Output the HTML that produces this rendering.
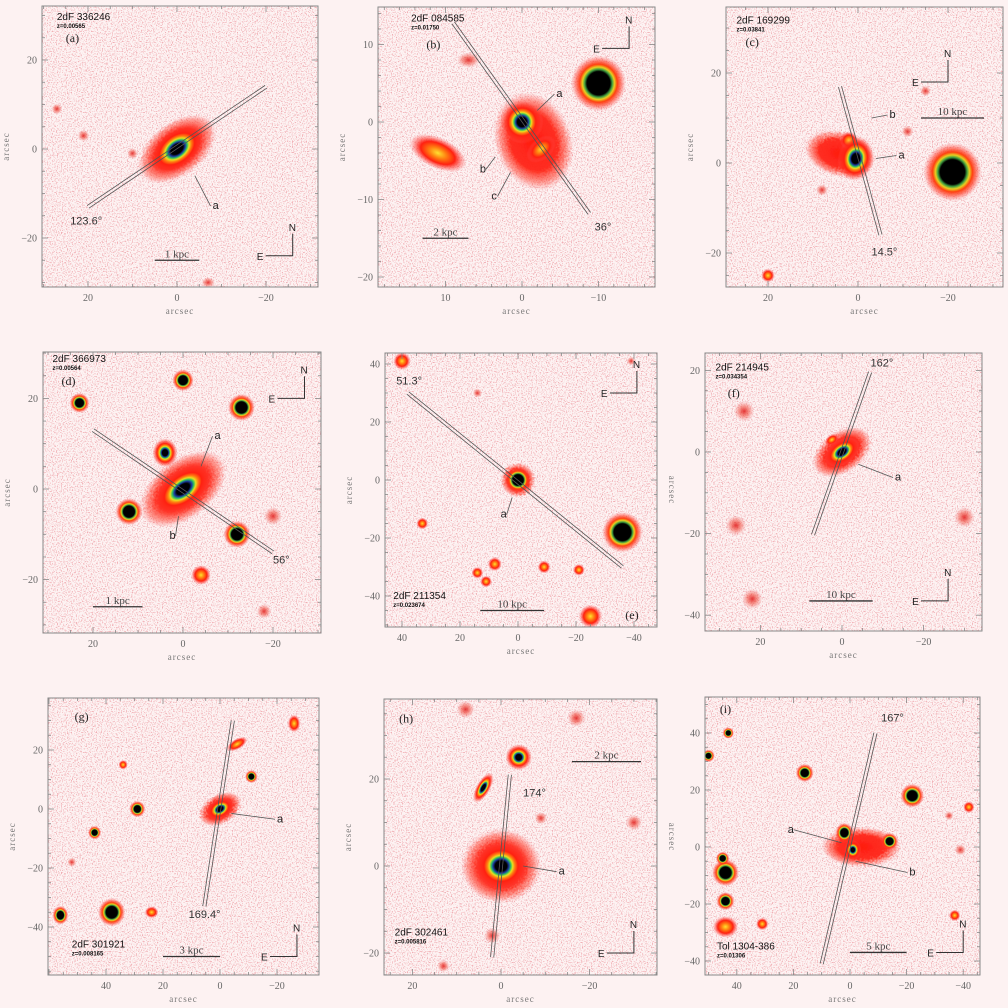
<!DOCTYPE html>
<html><head><meta charset="utf-8"><style>
html,body{margin:0;padding:0;background:#fdf2f2;}
svg{display:block;}
text{font-family:"Liberation Serif",serif;}
.lab{font-family:"Liberation Sans",sans-serif;}
</style></head><body>
<svg id="fig" width="1008" height="1008" viewBox="0 0 1008 1008" xmlns="http://www.w3.org/2000/svg">
<defs>
<filter id="noise" x="0" y="0" width="100%" height="100%">
<feTurbulence type="fractalNoise" baseFrequency="0.8" numOctaves="2" seed="3"/>
<feColorMatrix type="matrix" values="0 0 0 0 0.78  0 0 0 0 0.15  0 0 0 0 0.18  6 0 0 0 -3.15"/>
</filter>
<filter id="rag" x="-30%" y="-30%" width="160%" height="160%">
<feTurbulence type="fractalNoise" baseFrequency="0.5" numOctaves="2" seed="7" result="t"/>
<feDisplacementMap in="SourceGraphic" in2="t" scale="6"/>
</filter>
<radialGradient id="g-gal"><stop offset="0" stop-color="#000010"/><stop offset="0.22" stop-color="#000"/><stop offset="0.3" stop-color="#1a3aa0"/><stop offset="0.37" stop-color="#30c060"/><stop offset="0.44" stop-color="#e8e020"/><stop offset="0.52" stop-color="#ff8010"/><stop offset="0.64" stop-color="#ff2010"/><stop offset="0.82" stop-color="#ff3020" stop-opacity="0.5"/><stop offset="1" stop-color="#ff6060" stop-opacity="0"/></radialGradient>
<radialGradient id="g-star"><stop offset="0" stop-color="#000"/><stop offset="0.42" stop-color="#000"/><stop offset="0.5" stop-color="#40a040"/><stop offset="0.58" stop-color="#e8d020"/><stop offset="0.68" stop-color="#ff4010"/><stop offset="0.85" stop-color="#ff3020" stop-opacity="0.45"/><stop offset="1" stop-color="#ff6060" stop-opacity="0"/></radialGradient>
<radialGradient id="g-faint"><stop offset="0" stop-color="#e02020" stop-opacity="0.9"/><stop offset="0.5" stop-color="#f04030" stop-opacity="0.5"/><stop offset="1" stop-color="#f06060" stop-opacity="0"/></radialGradient>
<radialGradient id="g-orange"><stop offset="0" stop-color="#ffe030"/><stop offset="0.3" stop-color="#ff8010"/><stop offset="0.6" stop-color="#ff2010"/><stop offset="1" stop-color="#ff5050" stop-opacity="0"/></radialGradient>
<radialGradient id="g-halo"><stop offset="0" stop-color="#ff1a10"/><stop offset="0.6" stop-color="#ff2515" stop-opacity="0.95"/><stop offset="0.85" stop-color="#ff4030" stop-opacity="0.45"/><stop offset="1" stop-color="#ff6060" stop-opacity="0"/></radialGradient>
</defs>
</svg>
<script>
// sources: [x arcsec, y arcsec, rx, ry, rotation deg, type]
const srcA = [[0,0,10,6,-38,'halo'],[0,0,7,4.5,-38,'gal'],[-7,-30,1.5,1.2,0,'faint'],[21,3,1.3,1.3,0,'faint'],[27,9,1.2,1.2,0,'faint'],[10,-1,1.2,1.2,0,'faint']];
const srcB = [[-1.5,-2.5,5,6.5,-20,'halo'],[0,0,2.8,2.8,0,'gal'],[-2.5,-3.5,2.2,1.4,-40,'orange'],[-10,5,3.6,3.6,0,'star'],[11,-4,4,2,25,'orange'],[7,8,1.5,1,0,'faint']];
const srcC = [[4,2,8,5,15,'halo'],[2,5,2,2,0,'orange'],[0.5,1,4,5,10,'gal'],[-21,-2,6.5,6.5,0,'star'],[20,-25,1.5,1.5,0,'orange'],[-11,7,1.3,1.3,0,'faint'],[8,-6,1.3,1.3,0,'faint'],[-15,16,1.2,1.2,0,'faint']];
const srcD = [[0,0,11,6.5,-38,'halo'],[0,0,7.5,4.2,-38,'gal'],[4,8,2.8,3.2,0,'gal'],[12,-5,3,3,0,'star'],[-13,18,3,3,0,'star'],[-12,-10,3,3,0,'star'],[23,19,2.2,2.2,0,'star'],[0,24,2.4,2.4,0,'star'],[-4,-19,2.2,2.2,0,'orange'],[-20,-6,2,2,0,'faint'],[-18,-27,1.6,1.6,0,'faint']];
const srcE = [[0,0,6,6,0,'halo'],[0,0,4.5,4.5,0,'star'],[-36,-18,7,7,0,'star'],[-25,-47,4,4,0,'orange'],[8,-29,2.4,2.4,0,'orange'],[14,-32,2,2,0,'orange'],[11,-35,2,2,0,'orange'],[-9,-30,2.2,2.2,0,'orange'],[-21,-31,2,2,0,'orange'],[33,-15,2,2,0,'orange'],[40,41,3,3,0,'orange'],[14,30,1.6,1.6,0,'faint'],[-39,41,1.5,1.5,0,'faint']];
const srcF = [[0,0,8,5,-35,'halo'],[0,0,4.8,3,-35,'gal'],[2.5,3,1.8,1.2,-35,'orange'],[-30,-16,2.5,2.5,0,'faint'],[22,-36,2.5,2.5,0,'faint'],[26,-18,2.5,2.5,0,'faint'],[24,10,2.5,2.5,0,'faint']];
const srcG = [[0,0,8,5,-30,'halo'],[0,0,5,3.3,-30,'gal'],[-6,22,4,1.8,-30,'orange'],[-26,29,2.2,3,0,'orange'],[-11,11,2.2,2.2,0,'star'],[29,0,2.8,2.8,0,'star'],[44,-8,2.3,2.3,0,'star'],[38,-35,4.8,4.8,0,'star'],[56,-36,2.8,3.2,0,'star'],[24,-35,2.4,2,0,'orange'],[34,15,1.6,1.6,0,'orange'],[52,-18,1.6,1.6,0,'faint']];
const srcH = [[0,0,9,8.5,0,'halo'],[0,0,6,5.5,0,'gal'],[-4,25,3,3,0,'gal'],[4,18,3.8,1.6,-60,'gal'],[2,-16,1.8,1.8,0,'faint'],[13,-23,1.4,1.4,0,'faint'],[8,36,2,2,0,'faint'],[-17,34,2,2,0,'faint'],[-30,10,1.8,1.8,0,'faint'],[-9,11,1.4,1.4,0,'faint']];
const srcI = [[-4,0,14,7,0,'halo'],[2,5,3.2,3.5,0,'star'],[-1,-1,3,3.5,0,'gal'],[-14,2,3,3,0,'star'],[-22,18,4.2,4.2,0,'star'],[16,26,3.2,3.2,0,'star'],[44,-9,4.8,4.8,0,'star'],[45,-4,2.4,2.4,0,'star'],[44,-19,3.2,3.2,0,'star'],[44,-28,4.5,3.8,0,'orange'],[31,-27,2.2,2.2,0,'orange'],[43,40,2,2,0,'star'],[50,32,2.2,2.2,0,'star'],[-42,14,2,2,0,'orange'],[-37,-24,2,2,0,'orange'],[-39,-1,2,2,0,'faint'],[-35,11,1.6,1.6,0,'faint']];

const panels = [
 {id:'a',frame:[42,6,318,287],cx:177,sx:4.45,cy:149,sy:4.45,xt:[20,0,-20],yt:[20,0,-20],minor:5,src:srcA,ytitle:true,
  name:'2dF 336246',z:'z=0.00565',nameAt:[27,29],tag:'(a)',tagAt:[25,24],
  slit:[[20,-13],[-20,14]],angle:'123.6°',angleAt:[24,-17],
  marks:[['a',-8,-13.5,-4,-6]],scale:[5,-5,-25,'1 kpc'],ne:[-26,-24]},
 {id:'b',frame:[378,7,655,287],cx:522,sx:7.65,cy:122,sy:7.75,xt:[10,0,-10],yt:[10,0,-10,-20],minor:2,src:srcB,ytitle:true,
  name:'2dF 084585',z:'z=0.01750',nameAt:[14.5,13],tag:'(b)',tagAt:[12.5,9.5],
  slit:[[9,12.8],[-8.8,-11.8]],angle:'36°',angleAt:[-9.5,-14],
  marks:[['a',-4.5,3.2,-2,1.5],['b',5.5,-6.5,3.5,-4.5],['c',4,-10,1.5,-6.5]],scale:[13,7,-15,'2 kpc'],ne:[-14,9.5]},
 {id:'c',frame:[726,7,1003,287],cx:858,sx:4.5,cy:163,sy:4.5,xt:[20,0,-20],yt:[20,0,-20],minor:5,src:srcC,ytitle:true,
  name:'2dF 169299',z:'z=0.03841',nameAt:[27,31],tag:'(c)',tagAt:[25,26],
  slit:[[4,17],[-5,-16]],angle:'14.5°',angleAt:[-3,-20.5],
  marks:[['a',-9,1,-4,1],['b',-7,10,-3,10]],scale:[-14,-28,10,'10 kpc'],ne:[-20,18]},
 {id:'d',frame:[43,352,321,633],cx:183,sx:4.5,cy:489,sy:4.53,xt:[20,0,-20],yt:[20,0,-20],minor:5,src:srcD,ytitle:true,
  name:'2dF 366973',z:'z=0.00564',nameAt:[29,28],tag:'(d)',tagAt:[27,23],
  slit:[[20,13],[-20,-14]],angle:'56°',angleAt:[-20,-16.5],
  marks:[['a',-7,11,-4,5],['b',3,-11,1,-6]],scale:[20,9,-26,'1 kpc'],ne:[-27,20]},
 {id:'e',frame:[385,353,657,627],cx:518,sx:2.9,cy:480,sy:2.9,xt:[40,20,0,-20,-40],yt:[40,20,0,-20,-40],minor:5,src:srcE,ytitle:true,
  name:'2dF 211354',z:'z=0.023674',nameAt:[43,-41],tag:'(e)',tagAt:[-37,-48],
  slit:[[38,30],[-36,-30]],angle:'51.3°',angleAt:[42,33],
  marks:[['a',6,-13,2,-6]],scale:[13,-9,-45,'10 kpc'],ne:[-41,30]},
 {id:'f',frame:[705,353,982,631],cx:842,sx:4.08,cy:452,sy:4.08,xt:[20,0,-20],yt:[20,0,-20,-40],minor:5,src:srcF,ytitle:false,
  name:'2dF 214945',z:'z=0.034354',nameAt:[31,20],tag:'(f)',tagAt:[28,13.5],
  slit:[[7.1,-20.3],[-6.9,19.6]],angle:'162°',angleAt:[-7,21],
  marks:[['a',-13,-7,-4,-3]],scale:[8,-7.5,-36.5,'10 kpc'],ne:[-26,-36.5]},
 {id:'g',frame:[48,698,319,975],cx:220,sx:2.85,cy:809,sy:2.95,xt:[40,20,0,-20],yt:[20,0,-20,-40],minor:5,src:srcG,ytitle:true,
  name:'2dF 301921',z:'z=0.008165',nameAt:[52,-47],tag:'(g)',tagAt:[51,30],
  slit:[[-4.5,30],[5.5,-33]],angle:'169.4°',angleAt:[11,-37],
  marks:[['a',-20,-4.5,-4,-1.5]],scale:[20,0,-50,'3 kpc'],ne:[-27,-50]},
 {id:'h',frame:[384,699,657,975],cx:501,sx:4.43,cy:866,sy:4.35,xt:[20,0,-20],yt:[20,0,-20],minor:5,src:srcH,ytitle:true,
  name:'2dF 302461',z:'z=0.005816',nameAt:[24,-16],tag:'(h)',tagAt:[23,33],
  slit:[[-2,21],[2,-21]],angle:'174°',angleAt:[-5,16],
  marks:[['a',-13,-2,-5,0]],scale:[-16,-31.6,24,'2 kpc'],ne:[-30,-20]},
 {id:'i',frame:[705,697,980,975],cx:850,sx:2.83,cy:847,sy:2.85,xt:[40,20,0,-20,-40],yt:[40,20,0,-20,-40],minor:5,src:srcI,ytitle:false,
  name:'Tol 1304-386',z:'z=0.01306',nameAt:[47,-36],tag:'(i)',tagAt:[46,47],
  slit:[[-9,40],[10,-41]],angle:'167°',angleAt:[-11,44],
  marks:[['a',22,5,3,1.5],['b',-21,-10,-2,-5]],scale:[0,-20,-37,'5 kpc'],ne:[-40,-37]}
];

const NS='http://www.w3.org/2000/svg';
const svg=document.getElementById('fig');
function mk(tag,attrs,parent){const e=document.createElementNS(NS,tag);for(const k in attrs)e.setAttribute(k,attrs[k]);(parent||svg).appendChild(e);return e;}

panels.forEach(p=>{
  const [l,t,r,b]=p.frame;
  const X=v=>p.cx-v*p.sx, Y=v=>p.cy-v*p.sy;
  const g=mk('g',{});
  
  
  const cp=mk('clipPath',{id:'clip-'+p.id},g);
  mk('rect',{x:l,y:t,width:r-l,height:b-t},cp);
  const bg=mk('rect',{x:l,y:t,width:r-l,height:b-t,fill:'#fdf3f3'},g);
  
  
  const nz=mk('rect',{x:l,y:t,width:r-l,height:b-t,fill:'#fff',filter:'url(#noise)',opacity:'0.5'},g);
  
  
  const img=mk('g',{'clip-path':'url(#clip-'+p.id+')'},g);
  p.src.forEach(s=>{
    const [x,y,rx,ry,rot,type]=s;
    const attrs={cx:X(x),cy:Y(y),rx:rx*p.sx,ry:ry*p.sy,fill:'url(#g-'+type+')',transform:`rotate(${rot} ${X(x)} ${Y(y)})`};
    if(type==='halo') attrs.filter='url(#rag)';
    const e=mk('ellipse',attrs,img);
    
    
  });
  const [s0,s1]=p.slit;
  const x0=X(s0[0]),y0=Y(s0[1]),x1=X(s1[0]),y1=Y(s1[1]);
  const len=Math.hypot(x1-x0,y1-y0), nx=-(y1-y0)/len*1.6, ny=(x1-x0)/len*1.6;
  [-1,1].forEach(k=>{
    const ln=mk('line',{x1:x0+k*nx,y1:y0+k*ny,x2:x1+k*nx,y2:y1+k*ny,stroke:'#555',"stroke-width":0.8},g);
    
    
  });
  const at=mk('text',{x:X(p.angleAt[0]),y:Y(p.angleAt[1]),'font-size':11,fill:'#333',class:'lab'},g);
  at.textContent=p.angle;
  
  
  p.marks.forEach(m=>{
    const ml=mk('line',{x1:X(m[1])+(m[3]<m[1]?6:-2),y1:Y(m[2])-3,x2:X(m[3]),y2:Y(m[4]),stroke:'#555','stroke-width':0.8},g);
    
    
    const mt=mk('text',{x:X(m[1]),y:Y(m[2]),'font-size':11,fill:'#222',class:'lab'},g);
    mt.textContent=m[0];
    
    
  });
  const sc=p.scale;
  const sb=mk('line',{x1:X(sc[0]),y1:Y(sc[2]),x2:X(sc[1]),y2:Y(sc[2]),stroke:'#333','stroke-width':1.3},g);
  
  
  const st=mk('text',{x:(X(sc[0])+X(sc[1]))/2,y:Y(sc[2])-3,'font-size':11,fill:'#444','text-anchor':'middle'},g);
  st.textContent=sc[3];
  
  
  const nxp=X(p.ne[0]), nyp=Y(p.ne[1]);
  const cg=mk('g',{},g);
  
  
  mk('polyline',{points:`${nxp},${nyp-22} ${nxp},${nyp} ${nxp-27},${nyp}`,fill:'none',stroke:'#333','stroke-width':1},cg);
  const tn=mk('text',{x:nxp-4,y:nyp-25,'font-size':10,fill:'#222',class:'lab'},cg);tn.textContent='N';
  const te=mk('text',{x:nxp-36,y:nyp+4,'font-size':10,fill:'#222',class:'lab'},cg);te.textContent='E';
  const nm=mk('text',{x:X(p.nameAt[0]),y:Y(p.nameAt[1]),'font-size':10,fill:'#111',class:'lab'},g);
  nm.textContent=p.name;
  
  
  const zz=mk('text',{x:X(p.nameAt[0]),y:Y(p.nameAt[1])+8,'font-size':6,'font-weight':'bold',fill:'#111',class:'lab'},g);
  zz.textContent=p.z;
  
  
  const tg=mk('text',{x:X(p.tagAt[0]),y:Y(p.tagAt[1]),'font-size':12,fill:'#222'},g);
  tg.textContent=p.tag;
  
  
  const fr=mk('rect',{x:l,y:t,width:r-l,height:b-t,fill:'none',stroke:'#888','stroke-width':1},g);
  
  
  const tk=mk('g',{stroke:'#888','stroke-width':0.8},g);
  
  
  const xmin=(p.cx-r)/p.sx, xmax=(p.cx-l)/p.sx, ymin=(p.cy-b)/p.sy, ymax=(p.cy-t)/p.sy;
  for(let v=Math.ceil(xmin/p.minor)*p.minor; v<=xmax; v+=p.minor){
    const L=(Math.abs(v)%(p.minor*(p.minor===2?5:4))===0)?6:3;
    mk('line',{x1:X(v),y1:b,x2:X(v),y2:b-L},tk);mk('line',{x1:X(v),y1:t,x2:X(v),y2:t+L},tk);
  }
  for(let v=Math.ceil(ymin/p.minor)*p.minor; v<=ymax; v+=p.minor){
    const L=(Math.abs(v)%(p.minor*(p.minor===2?5:4))===0)?6:3;
    mk('line',{x1:l,y1:Y(v),x2:l+L,y2:Y(v)},tk);mk('line',{x1:r,y1:Y(v),x2:r-L,y2:Y(v)},tk);
  }
  p.xt.forEach(v=>{
    const tx=mk('text',{x:X(v),y:b+14,'font-size':10,fill:'#666','text-anchor':'middle'},g);
    tx.textContent=v<0?'−'+(-v):String(v);
    
    
  });
  p.yt.forEach(v=>{
    const ty=mk('text',{x:l-5,y:Y(v)+3.5,'font-size':10,fill:'#666','text-anchor':'end'},g);
    ty.textContent=v<0?'−'+(-v):String(v);
    
    
  });
  const xl=mk('text',{x:(l+r)/2,y:b+27,'font-size':9,fill:'#777','text-anchor':'middle','letter-spacing':'1'},g);
  xl.textContent='arcsec';
  
  
  const yy=(t+b)/2;
  if(p.ytitle){
    const yx=l-33;
    const yl=mk('text',{x:yx,y:yy,'font-size':9,fill:'#777','text-anchor':'middle','letter-spacing':'1',transform:`rotate(-90 ${yx} ${yy})`},g);
    yl.textContent='arcsec';
    
    
  }
  if(p.id==='e'||p.id==='h'){
    const rx=r+12;
    const rl=mk('text',{x:rx,y:yy,'font-size':9,fill:'#777','text-anchor':'middle','letter-spacing':'1',transform:`rotate(90 ${rx} ${yy})`},g);
    rl.textContent='arcsec';
    
    
  }
});
</script>
</body></html>
